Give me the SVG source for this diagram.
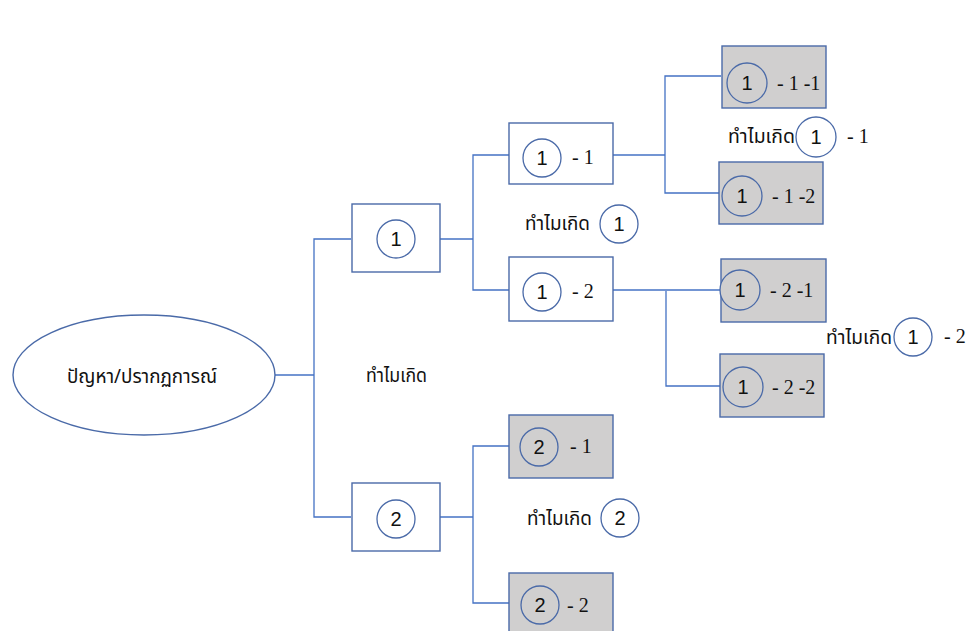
<svg xmlns="http://www.w3.org/2000/svg" width="968" height="631" viewBox="0 0 968 631">
  <style>
    .box { fill: #ffffff; stroke: #4a6aa8; stroke-width: 1.4; }
    .box.grey { fill: #d0cfcf; }
    .ring { fill: #ffffff; stroke: #4a6aa8; stroke-width: 1.3; }
    .ring.grey { fill: #d0cfcf; }
    .wire { fill: none; stroke: #4472c4; stroke-width: 1.3; }
    .num { font-family: "Liberation Sans", Arial, sans-serif; font-size: 20px; fill: #111; text-anchor: middle; }
    .sfx { font-family: "Liberation Serif", "Times New Roman", serif; font-size: 20px; fill: #111; }
    .th { font-family: "Noto Sans Thai", "Noto Sans", sans-serif; font-size: 19px; fill: #111; }
  </style>

  <!-- connectors -->
  <g id="connectors">
    <polyline class="wire" points="275,375 314,375"/>
    <polyline class="wire" points="351,239 314,239 314,517 351,517"/>
    <polyline class="wire" points="440,239 473,239"/>
    <polyline class="wire" points="509,155 473,155 473,290 509,290"/>
    <polyline class="wire" points="440,517 473,517"/>
    <polyline class="wire" points="509,446 473,446 473,603 509,603"/>
    <polyline class="wire" points="613,155 665,155"/>
    <polyline class="wire" points="721,76 665,76 665,193 719,193"/>
    <polyline class="wire" points="613,290 721,290"/>
    <polyline class="wire" points="666,291 666,386 720,386"/>
  </g>

  <!-- root -->
  <g id="root">
    <ellipse cx="144" cy="375" rx="131" ry="60" fill="#ffffff" stroke="#4a6aa8" stroke-width="1.4"/>
    <text class="th" x="67" y="383" font-size="21" textLength="150" lengthAdjust="spacingAndGlyphs">ปัญหา/ปรากฏการณ์</text>
  </g>
  <g id="why-root">
    <text class="th" x="366" y="382" textLength="61" lengthAdjust="spacingAndGlyphs">ทำไมเกิด</text>
  </g>

  <!-- level 1 -->
  <g id="n1">
    <rect class="box" x="352" y="204" width="88" height="68"/>
    <circle class="ring" cx="396" cy="239" r="19"/>
    <text class="num" x="396" y="246">1</text>
  </g>
  <g id="n2">
    <rect class="box" x="352" y="483" width="88" height="68"/>
    <circle class="ring" cx="396" cy="519" r="19"/>
    <text class="num" x="396" y="526">2</text>
  </g>

  <!-- level 2 under 1 -->
  <g id="n1-1">
    <rect class="box" x="509" y="123" width="104" height="61"/>
    <circle class="ring" cx="542" cy="158" r="19"/>
    <text class="num" x="542" y="165">1</text>
    <text class="sfx" x="572" y="164">- 1</text>
  </g>
  <g id="why-1">
    <text class="th" x="525" y="230" textLength="65" lengthAdjust="spacingAndGlyphs">ทำไมเกิด</text>
    <circle class="ring" cx="619" cy="224" r="19"/>
    <text class="num" x="619" y="231">1</text>
  </g>
  <g id="n1-2">
    <rect class="box" x="509" y="257" width="104" height="64"/>
    <circle class="ring" cx="542" cy="292" r="19"/>
    <text class="num" x="542" y="299">1</text>
    <text class="sfx" x="572" y="298">- 2</text>
  </g>

  <!-- level 3 under 1-1 -->
  <g id="n1-1-1">
    <rect class="box grey" x="722" y="46" width="104" height="62"/>
    <circle class="ring grey" cx="747" cy="83" r="20"/>
    <text class="num" x="747" y="90">1</text>
    <text class="sfx" x="777" y="90">- 1 -1</text>
  </g>
  <g id="why-1-1">
    <text class="th" x="728" y="143" textLength="67" lengthAdjust="spacingAndGlyphs">ทำไมเกิด</text>
    <circle class="ring" cx="816" cy="137" r="20"/>
    <text class="num" x="816" y="144">1</text>
    <text class="sfx" x="847" y="143">- 1</text>
  </g>
  <g id="n1-1-2">
    <rect class="box grey" x="719" y="162" width="104" height="62"/>
    <circle class="ring grey" cx="742" cy="196" r="20"/>
    <text class="num" x="742" y="203">1</text>
    <text class="sfx" x="772" y="203">- 1 -2</text>
  </g>

  <!-- level 3 under 1-2 -->
  <g id="n1-2-1">
    <rect class="box grey" x="721" y="259" width="105" height="63"/>
    <circle class="ring grey" cx="740" cy="290" r="20"/>
    <text class="num" x="740" y="297">1</text>
    <text class="sfx" x="770" y="297">- 2 -1</text>
  </g>
  <g id="why-1-2">
    <text class="th" x="826" y="344" textLength="66" lengthAdjust="spacingAndGlyphs">ทำไมเกิด</text>
    <circle class="ring" cx="913" cy="337" r="19"/>
    <text class="num" x="913" y="344">1</text>
    <text class="sfx" x="944" y="343">- 2</text>
  </g>
  <g id="n1-2-2">
    <rect class="box grey" x="720" y="354" width="104" height="63"/>
    <circle class="ring grey" cx="743" cy="387" r="20"/>
    <text class="num" x="743" y="394">1</text>
    <text class="sfx" x="772" y="394">- 2 -2</text>
  </g>

  <!-- level 2 under 2 -->
  <g id="n2-1">
    <rect class="box grey" x="509" y="415" width="104" height="63"/>
    <circle class="ring grey" cx="539" cy="447" r="19"/>
    <text class="num" x="539" y="454">2</text>
    <text class="sfx" x="570" y="453">- 1</text>
  </g>
  <g id="why-2">
    <text class="th" x="527" y="525" textLength="65" lengthAdjust="spacingAndGlyphs">ทำไมเกิด</text>
    <circle class="ring" cx="620" cy="518" r="19"/>
    <text class="num" x="620" y="525">2</text>
  </g>
  <g id="n2-2">
    <rect class="box grey" x="509" y="573" width="104" height="70"/>
    <circle class="ring grey" cx="540" cy="605" r="19"/>
    <text class="num" x="540" y="612">2</text>
    <text class="sfx" x="567" y="612">- 2</text>
  </g>
</svg>
